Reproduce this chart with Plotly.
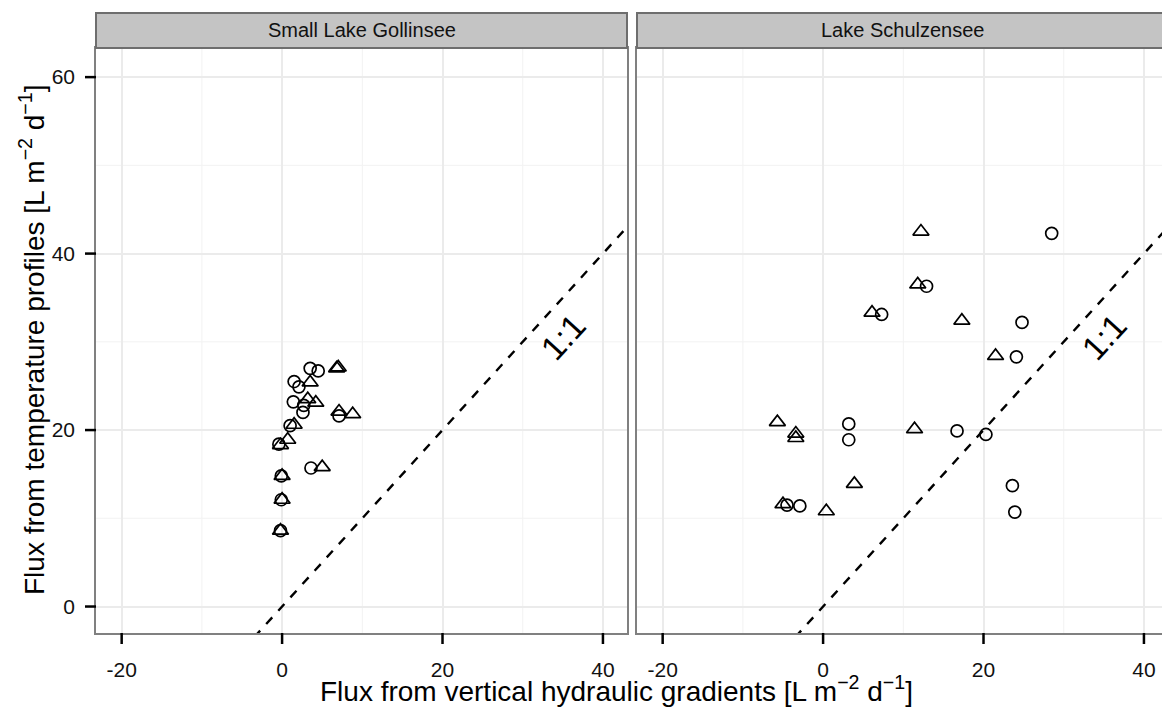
import plotly.graph_objects as go

# Small Lake Gollinsee
g_circ_x = [3.5, 4.5, 1.5, 2.1, 1.4, 2.7, 2.6, 7.1, 1.0, -0.4, 3.6, -0.1, -0.1, -0.2]
g_circ_y = [27.0, 26.7, 25.5, 24.9, 23.2, 22.8, 22.0, 21.6, 20.5, 18.4, 15.7, 14.8, 12.1, 8.6]
g_tri_x = [6.8, 7.0, 3.5, 3.2, 4.2, 7.1, 8.8, 1.5, 0.7, -0.2, 5.0, 0.0, 0.0, -0.2]
g_tri_y = [27.0, 27.1, 25.4, 23.5, 23.1, 22.1, 21.8, 20.6, 18.9, 18.3, 15.8, 14.8, 12.1, 8.6]

# Lake Schulzensee
s_circ_x = [28.5, 12.9, 7.3, 24.8, 24.1, 3.2, 3.2, 16.7, 20.3, 23.6, 23.9, -4.5, -2.9]
s_circ_y = [42.3, 36.3, 33.1, 32.2, 28.3, 20.7, 18.9, 19.9, 19.5, 13.7, 10.7, 11.5, 11.4]
s_tri_x = [12.2, 11.8, 6.1, 17.3, 21.5, -5.7, -3.4, -3.4, 11.4, 3.9, -5.0, 0.4]
s_tri_y = [42.5, 36.5, 33.3, 32.4, 28.4, 20.9, 19.6, 19.1, 20.1, 13.9, 11.6, 10.8]

panels = ["Small Lake Gollinsee", "Lake Schulzensee"]
one_to_one = [-5, 50]
x_ticks = [-20, 0, 20, 40]
x_ticktext = ["-20", "0", "20", "40"]
y_ticks = [0, 20, 40, 60]
y_ticktext = ["0", "20", "40", "60"]
x_minor = [-10, 10, 30]
y_minor = [10, 30, 50]
x_range = [-23.2, 43]
y_range = [-3, 63.3]

FONT = "Liberation Sans, Arial, Helvetica, sans-serif"
W, H = 1172, 711
dom_x = [[96 / W, 627 / W], [637 / W, 1168 / W]]
dom_y = [(H - 633) / H, (H - 48) / H]
strip_top = (H - 13) / H
TICK_LEN = 11

fig = go.Figure()
for i, (cx, cy, tx, ty) in enumerate([(g_circ_x, g_circ_y, g_tri_x, g_tri_y),
                                       (s_circ_x, s_circ_y, s_tri_x, s_tri_y)]):
    xa = "x" if i == 0 else "x2"
    ya = "y" if i == 0 else "y2"
    fig.add_trace(go.Scatter(x=one_to_one, y=one_to_one, mode="lines",
                             line=dict(color="black", width=2.4, dash="dash"),
                             xaxis=xa, yaxis=ya, showlegend=False, hoverinfo="skip"))
    fig.add_trace(go.Scatter(x=cx, y=cy, mode="markers",
                             marker=dict(symbol="circle-open", color="black", size=12,
                                         line=dict(width=1.7, color="black")),
                             xaxis=xa, yaxis=ya, showlegend=False))
    fig.add_trace(go.Scatter(x=tx, y=ty, mode="markers",
                             marker=dict(symbol="triangle-up-open", color="black", size=14,
                                         line=dict(width=1.7, color="black")),
                             xaxis=xa, yaxis=ya, showlegend=False))

axis_common = dict(
    showline=True, mirror=True, linecolor="#808080", linewidth=1.5,
    showgrid=True, gridcolor="#ebebeb", gridwidth=1.5,
    zeroline=False, tickmode="array", ticks="",
    tickfont=dict(family=FONT, size=21, color="#111"),
    automargin=False,
)
fig.update_layout(
    xaxis=dict(domain=dom_x[0], range=x_range, tickvals=x_ticks, ticktext=x_ticktext,
               anchor="y", ticklabelstandoff=17, **axis_common),
    xaxis2=dict(domain=dom_x[1], range=x_range, tickvals=x_ticks, ticktext=x_ticktext,
                anchor="y2", ticklabelstandoff=17, **axis_common),
    yaxis=dict(domain=dom_y, range=y_range, tickvals=y_ticks, ticktext=y_ticktext,
               anchor="x", ticklabelstandoff=15, **axis_common),
    yaxis2=dict(domain=dom_y, range=y_range, tickvals=y_ticks, ticktext=y_ticktext,
                anchor="x2", showticklabels=False, **axis_common),
)

shapes = []
annotations = []
for i, name in enumerate(panels):
    xr = "x" if i == 0 else "x2"
    yr = "y" if i == 0 else "y2"
    for v in x_minor:
        shapes.append(dict(type="line", xref=xr, yref=yr + " domain", x0=v, x1=v, y0=0, y1=1,
                           line=dict(color="#f2f2f2", width=1), layer="below"))
    for v in y_minor:
        shapes.append(dict(type="line", xref=xr + " domain", yref=yr, x0=0, x1=1, y0=v, y1=v,
                           line=dict(color="#f2f2f2", width=1), layer="below"))
    # x-axis tick marks below each panel
    for v in x_ticks:
        shapes.append(dict(type="line", xref=xr, yref="paper", x0=v, x1=v,
                           y0=dom_y[0], y1=dom_y[0] - TICK_LEN / H,
                           line=dict(color="black", width=2.5), layer="above"))
    shapes.append(dict(type="rect", xref="paper", yref="paper",
                       x0=dom_x[i][0], x1=dom_x[i][1], y0=dom_y[1], y1=strip_top,
                       fillcolor="#c4c4c4", line=dict(color="#6e6e6e", width=2), layer="above"))
    annotations.append(dict(text=name, xref="paper", yref="paper",
                            x=(dom_x[i][0] + dom_x[i][1]) / 2, y=(dom_y[1] + strip_top) / 2,
                            showarrow=False, xanchor="center", yanchor="middle",
                            font=dict(family=FONT, size=20, color="#111")))
    annotations.append(dict(text="1:1", xref=xr, yref=yr,
                            x=35.0, y=30.6, showarrow=False, textangle=-47.5,
                            font=dict(family=FONT, size=34, color="black")))

# y-axis tick marks on the left panel
for v in y_ticks:
    shapes.append(dict(type="line", xref="paper", yref="y", x0=dom_x[0][0] - TICK_LEN / W, x1=dom_x[0][0],
                       y0=v, y1=v, line=dict(color="black", width=2.5), layer="above"))

annotations.append(dict(text="Flux from vertical hydraulic gradients [L m<sup>\u22122</sup> d<sup>\u22121</sup>]",
                        xref="paper", yref="paper", x=616 / W, y=(H - 689) / H,
                        showarrow=False, xanchor="center", yanchor="middle",
                        font=dict(family=FONT, size=28, color="black")))
annotations.append(dict(text="Flux from temperature profiles [L m<sup>\u22122</sup> d<sup>\u22121</sup>]",
                        xref="paper", yref="paper", x=32 / W, y=(H - 340) / H,
                        showarrow=False, xanchor="center", yanchor="middle", textangle=-90,
                        font=dict(family=FONT, size=28, color="black")))

fig.update_layout(
    width=W, height=H, margin=dict(l=0, r=0, t=0, b=0),
    paper_bgcolor="white", plot_bgcolor="white",
    shapes=shapes, annotations=annotations, showlegend=False,
)

fig.write_html("out.html", config={"displayModeBar": False},
               post_script="document.body.style.margin='0px';document.body.style.overflow='hidden';")
